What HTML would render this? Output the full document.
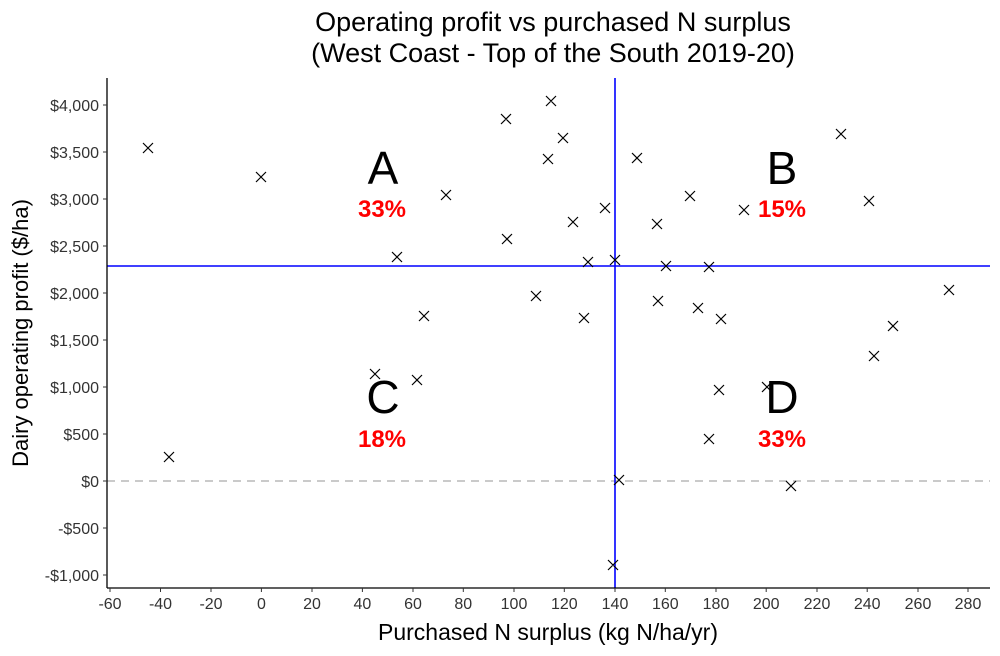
<!DOCTYPE html>
<html><head><meta charset="utf-8"><style>body{margin:0;background:#fff}</style></head><body>
<svg width="1000" height="651" xmlns="http://www.w3.org/2000/svg" font-family="Liberation Sans, sans-serif">
<rect width="1000" height="651" fill="#fff"/>
<text x="553" y="31" font-size="27" text-anchor="middle">Operating profit vs purchased N surplus</text>
<text x="553" y="62" font-size="27" text-anchor="middle">(West Coast - Top of the South 2019-20)</text>
<line x1="107" y1="481" x2="990" y2="481" stroke="#aaa" stroke-width="1.3" stroke-dasharray="8,6"/>
<line x1="615" y1="78" x2="615" y2="588" stroke="#0000ff" stroke-width="1.6"/>
<line x1="107" y1="266" x2="990" y2="266" stroke="#0000ff" stroke-width="1.6"/>
<g stroke="#000" stroke-width="1.2">
<path d="M143,143l10,10m-10,0l10,-10M256,172l10,10m-10,0l10,-10M370,369l10,10m-10,0l10,-10M412,375l10,10m-10,0l10,-10M164,452l10,10m-10,0l10,-10M392,252l10,10m-10,0l10,-10M419,311l10,10m-10,0l10,-10M441,190l10,10m-10,0l10,-10M501,114l10,10m-10,0l10,-10M502,234l10,10m-10,0l10,-10M531,291l10,10m-10,0l10,-10M546,96l10,10m-10,0l10,-10M543,154l10,10m-10,0l10,-10M558,133l10,10m-10,0l10,-10M568,217l10,10m-10,0l10,-10M579,313l10,10m-10,0l10,-10M583,257l10,10m-10,0l10,-10M600,203l10,10m-10,0l10,-10M610,255l10,10m-10,0l10,-10M608,560l10,10m-10,0l10,-10M614,475l10,10m-10,0l10,-10M632,153l10,10m-10,0l10,-10M652,219l10,10m-10,0l10,-10M661,261l10,10m-10,0l10,-10M653,296l10,10m-10,0l10,-10M685,191l10,10m-10,0l10,-10M704,262l10,10m-10,0l10,-10M739,205l10,10m-10,0l10,-10M693,303l10,10m-10,0l10,-10M716,314l10,10m-10,0l10,-10M714,385l10,10m-10,0l10,-10M704,434l10,10m-10,0l10,-10M762,382l10,10m-10,0l10,-10M786,481l10,10m-10,0l10,-10M836,129l10,10m-10,0l10,-10M864,196l10,10m-10,0l10,-10M869,351l10,10m-10,0l10,-10M888,321l10,10m-10,0l10,-10M944,285l10,10m-10,0l10,-10"/>
</g>
<g font-size="46" text-anchor="middle"><text x="383" y="184">A</text><text x="782" y="184">B</text><text x="383" y="413">C</text><text x="782" y="413">D</text></g>
<g font-size="24" font-weight="bold" fill="#ff0000" text-anchor="middle"><text x="382" y="217">33%</text><text x="782" y="217">15%</text><text x="382" y="447">18%</text><text x="782" y="447">33%</text></g>
<line x1="107" y1="78" x2="107" y2="588" stroke="#000" stroke-width="1.3"/>
<line x1="107" y1="588" x2="990" y2="588" stroke="#000" stroke-width="1.3"/>
<g stroke="#333" stroke-width="1">
<path d="M103,105h4M103,152h4M103,199h4M103,246h4M103,293h4M103,340h4M103,387h4M103,434h4M103,481h4M103,528h4M103,575h4"/>
<path d="M110,588v4M160.5,588v4M211,588v4M261.4,588v4M312,588v4M362.4,588v4M413,588v4M463.3,588v4M514,588v4M564.3,588v4M615,588v4M665.3,588v4M716,588v4M766.2,588v4M817,588v4M867.2,588v4M918,588v4M968,588v4"/>
</g>
<g font-size="16" fill="#333" text-anchor="end">
<text x="99" y="111">$4,000</text><text x="99" y="158">$3,500</text><text x="99" y="205">$3,000</text><text x="99" y="252">$2,500</text><text x="99" y="299">$2,000</text><text x="99" y="346">$1,500</text><text x="99" y="393">$1,000</text><text x="99" y="440">$500</text><text x="99" y="487">$0</text><text x="99" y="534">-$500</text><text x="99" y="581">-$1,000</text>
</g>
<g font-size="16" fill="#333" text-anchor="middle">
<text x="110" y="609">-60</text><text x="160.5" y="609">-40</text><text x="211" y="609">-20</text><text x="261.4" y="609">0</text><text x="312" y="609">20</text><text x="362.4" y="609">40</text><text x="413" y="609">60</text><text x="463.3" y="609">80</text><text x="514" y="609">100</text><text x="564.3" y="609">120</text><text x="615" y="609">140</text><text x="665.3" y="609">160</text><text x="716" y="609">180</text><text x="766.2" y="609">200</text><text x="817" y="609">220</text><text x="867.2" y="609">240</text><text x="918" y="609">260</text><text x="968" y="609">280</text>
</g>
<text x="548" y="640" font-size="23" text-anchor="middle">Purchased N surplus (kg N/ha/yr)</text>
<text transform="translate(28,333) rotate(-90)" font-size="22" text-anchor="middle">Dairy operating profit ($/ha)</text>
</svg>
</body></html>
